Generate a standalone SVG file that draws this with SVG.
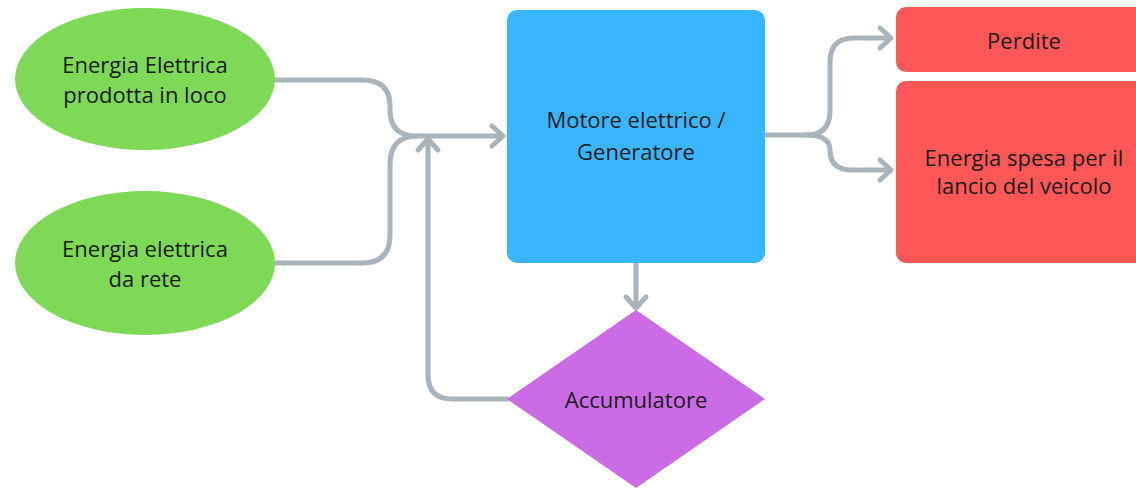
<svg xmlns="http://www.w3.org/2000/svg" width="1136" height="488" viewBox="0 0 1136 488">
  <style>
    .lbl { font-family: "Open Sans", "Liberation Sans", sans-serif; font-size: 22px; fill: #1b1b1b; text-anchor: middle; }
    .wire { fill: none; stroke: #a8b3bb; stroke-width: 5; stroke-linecap: round; stroke-linejoin: round; }
    .head { fill: none; stroke: #a8b3bb; stroke-width: 5; stroke-linecap: round; stroke-linejoin: round; }
  </style>
  <rect width="1136" height="488" fill="#ffffff"/>

  <!-- connectors -->
  <g id="connectors">
    <path class="wire" d="M275,80 H362 Q390,80 390,106 V110 Q390,136 416,136 H502"/>
    <path class="head" d="M492,126 L503,136 L492,146"/>
    <path class="wire" d="M275,263 H362 Q390,263 390,235 V164 Q390,136 418,136"/>
    <path class="wire" d="M507,399 H452 Q428,399 428,375 V141"/>
    <path class="head" d="M418,150 L428,139 L438,150"/>
    <path class="wire" d="M636,263 V307"/>
    <path class="head" d="M626,297 L636,308 L646,297"/>
    <path class="wire" d="M765,135 H806 Q830,135 830,111 V62 Q830,38 854,38 H890"/>
    <path class="head" d="M880,28 L891,38 L880,48"/>
    <path class="wire" d="M806,135 Q830,135 830,150 V150 Q830,170 852,170 H890"/>
    <path class="head" d="M880,160 L891,170 L880,180"/>
  </g>

  <g id="energia-loco">
    <ellipse cx="145" cy="79" rx="130" ry="71" fill="#7ed957"/>
    <text class="lbl" x="145" y="73">Energia Elettrica</text>
    <text class="lbl" x="145" y="103">prodotta in loco</text>
  </g>

  <g id="energia-rete">
    <ellipse cx="145" cy="263" rx="130" ry="72" fill="#7ed957"/>
    <text class="lbl" x="145" y="257">Energia elettrica</text>
    <text class="lbl" x="145" y="287">da rete</text>
  </g>

  <g id="motore">
    <rect x="507" y="10" width="258" height="253" rx="10" fill="#38b6ff"/>
    <text class="lbl" x="636" y="128">Motore elettrico /</text>
    <text class="lbl" x="636" y="160">Generatore</text>
  </g>

  <g id="perdite">
    <rect x="896" y="7" width="260" height="65" rx="10" fill="#ff5757"/>
    <text class="lbl" x="1024" y="49">Perdite</text>
  </g>

  <g id="lancio">
    <rect x="896" y="81" width="260" height="182" rx="10" fill="#ff5757"/>
    <text class="lbl" x="1024" y="166">Energia spesa per il</text>
    <text class="lbl" x="1024" y="194">lancio del veicolo</text>
  </g>

  <g id="accumulatore">
    <polygon points="636,310 765,399 636,488 507,399" fill="#cb6ce6"/>
    <text class="lbl" x="636" y="408">Accumulatore</text>
  </g>
</svg>
